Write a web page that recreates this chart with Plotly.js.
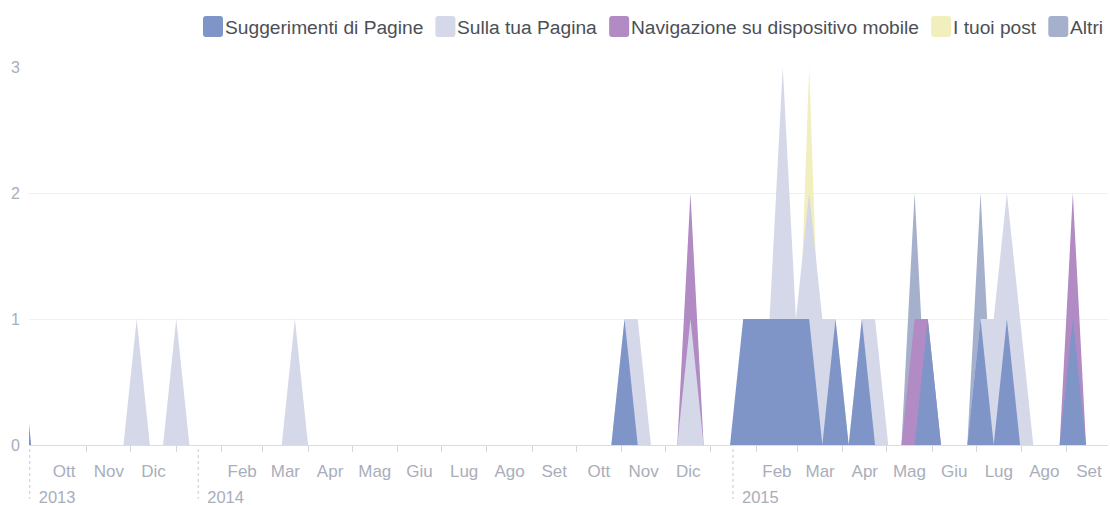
<!DOCTYPE html>
<html>
<head>
<meta charset="utf-8">
<script src="https://cdn.plot.ly/plotly-3.0.1.min.js"></script>
<style>
  html, body { margin: 0; padding: 0; background: #ffffff; }
  #chart { width: 1110px; height: 505px; }
</style>
</head>
<body>
<div id="chart"></div>
<script>
// ---------------- data ----------------
const seriesNames = ['Suggerimenti di Pagine', 'Sulla tua Pagina', 'Navigazione su dispositivo mobile', 'I tuoi post', 'Altri'];

const suggerimentiDates = ['2013-09-15','2013-09-24','2014-10-25','2014-11-03','2014-11-12','2015-01-14','2015-01-23','2015-02-01','2015-02-10','2015-02-19','2015-02-28','2015-03-09','2015-03-18','2015-03-27','2015-04-05','2015-04-14','2015-04-23','2015-05-20','2015-05-29','2015-06-07','2015-06-25','2015-07-04','2015-07-13','2015-07-22','2015-07-31','2015-08-27','2015-09-05','2015-09-14'];
const suggerimentiValues = [1,0,0,1,0,0,1,1,1,1,1,1,0,1,0,1,0,0,1,0,0,1,0,1,0,0,1,0];

const paginaDates = ['2013-11-26','2013-12-05','2013-12-14','2013-12-23','2014-01-01','2014-01-10','2014-03-14','2014-03-23','2014-04-01','2014-10-25','2014-11-03','2014-11-12','2014-11-21','2014-12-09','2014-12-18','2014-12-27','2015-02-01','2015-02-10','2015-02-19','2015-02-28','2015-03-09','2015-03-18','2015-03-27','2015-04-05','2015-04-14','2015-04-23','2015-05-02','2015-06-25','2015-07-04','2015-07-13','2015-07-22','2015-07-31','2015-08-09'];
const paginaValues = [0,1,0,0,1,0,0,1,0,0,1,1,0,0,1,0,0,1,3,1,2,1,1,0,1,1,0,0,1,1,2,1,0];

const mobileDates = ['2014-12-09','2014-12-18','2014-12-27','2015-05-11','2015-05-20','2015-05-29','2015-06-07','2015-08-27','2015-09-05','2015-09-14'];
const mobileValues = [0,2,0,0,1,1,0,0,2,0];

const postDates = ['2015-02-28','2015-03-09','2015-03-18'];
const postValues = [0,3,0];

const altriDates = ['2015-05-11','2015-05-20','2015-05-29','2015-06-25','2015-07-04','2015-07-13'];
const altriValues = [0,2,0,0,2,0];

const monthStarts = ['2013-10-01','2013-11-01','2013-12-01','2014-01-01','2014-02-01','2014-03-01','2014-04-01','2014-05-01','2014-06-01','2014-07-01','2014-08-01','2014-09-01','2014-10-01','2014-11-01','2014-12-01','2015-01-01','2015-02-01','2015-03-01','2015-04-01','2015-05-01','2015-06-01','2015-07-01','2015-08-01','2015-09-01','2015-10-01'];
const monthLabels = ['Ott','Nov','Dic','','Feb','Mar','Apr','Mag','Giu','Lug','Ago','Set','Ott','Nov','Dic','','Feb','Mar','Apr','Mag','Giu','Lug','Ago','Set'];

const yearMarks = ['2013-09-23','2014-01-16','2015-01-16'];
const yearLabels = ['2013','2014','2015'];

const yTicks = [0, 1, 2, 3];
const xRange = ['2013-09-22 12:00', '2015-09-29'];

// ---------------- styling ----------------
const colors = {
  sugg: '#7f95c8',
  pag: '#d4d8e8',
  mob: '#b28bc4',
  post: '#f1efbe',
  altri: '#a4b0cc'
};
const legendColors = [colors.sugg, colors.pag, colors.mob, colors.post, colors.altri];

const FONT = '"Liberation Sans", Arial, sans-serif';
const W = 1110, H = 505;
const M = { l: 29, r: 2, t: 67, b: 60 };
const plotW = W - M.l - M.r, plotH = H - M.t - M.b;
const toPX = p => (p - M.l) / plotW;
const toPY = p => (H - M.b - p) / plotH;

function area(x, y, name, color) {
  return {
    type: 'scatter', mode: 'lines', x: x, y: y, name: name,
    fill: 'tozeroy', fillcolor: color,
    line: { width: 0, color: color },
    showlegend: false, hoverinfo: 'skip'
  };
}

// draw order: bottom to top
const traces = [
  area(altriDates, altriValues, seriesNames[4], colors.altri),
  area(postDates, postValues, seriesNames[3], colors.post),
  area(mobileDates, mobileValues, seriesNames[2], colors.mob),
  area(paginaDates, paginaValues, seriesNames[1], colors.pag),
  area(suggerimentiDates, suggerimentiValues, seriesNames[0], colors.sugg),
  // empty carriers so the label axes get drawn
  { type: 'scatter', mode: 'lines', x: [], y: [], xaxis: 'x2', yaxis: 'y', showlegend: false, hoverinfo: 'skip' },
  { type: 'scatter', mode: 'lines', x: [], y: [], xaxis: 'x3', yaxis: 'y', showlegend: false, hoverinfo: 'skip' }
];

// month label positions: middle of each month
const labelPos = [], labelText = [];
for (let i = 0; i < monthLabels.length; i++) {
  if (!monthLabels[i]) continue;
  const a = new Date(monthStarts[i] + 'T00:00:00Z').getTime();
  const b = new Date(monthStarts[i + 1] + 'T00:00:00Z').getTime();
  const mid = new Date((a + b) / 2);
  labelPos.push(mid.toISOString().slice(0, 19).replace('T', ' '));
  labelText.push(monthLabels[i]);
}

// ---------------- legend (custom, rounded swatches) ----------------
const shapes = [];
const annotations = [];
const legendFontSize = 19.2;
const ctx = document.createElement('canvas').getContext('2d');
ctx.font = legendFontSize + 'px "Liberation Sans"';

function roundRectPath(x0, y0, x1, y1, r) {
  const X = v => toPX(v).toFixed(5), Y = v => toPY(v).toFixed(5);
  return 'M' + X(x0 + r) + ',' + Y(y0) +
    ' L' + X(x1 - r) + ',' + Y(y0) +
    ' Q' + X(x1) + ',' + Y(y0) + ' ' + X(x1) + ',' + Y(y0 + r) +
    ' L' + X(x1) + ',' + Y(y1 - r) +
    ' Q' + X(x1) + ',' + Y(y1) + ' ' + X(x1 - r) + ',' + Y(y1) +
    ' L' + X(x0 + r) + ',' + Y(y1) +
    ' Q' + X(x0) + ',' + Y(y1) + ' ' + X(x0) + ',' + Y(y1 - r) +
    ' L' + X(x0) + ',' + Y(y0 + r) +
    ' Q' + X(x0) + ',' + Y(y0) + ' ' + X(x0 + r) + ',' + Y(y0) + ' Z';
}

let lx = 203;
const swTop = 16, swBot = 37, swW = 20;
for (let i = 0; i < seriesNames.length; i++) {
  shapes.push({
    type: 'path', xref: 'paper', yref: 'paper', layer: 'above',
    path: roundRectPath(lx, swTop, lx + swW, swBot, 3),
    fillcolor: legendColors[i], line: { width: 0 }
  });
  annotations.push({
    xref: 'paper', yref: 'paper', x: toPX(lx + swW + 2), y: toPY(27),
    xanchor: 'left', yanchor: 'middle', showarrow: false,
    borderpad: 0, borderwidth: 0,
    text: seriesNames[i],
    font: { family: FONT, size: legendFontSize, color: '#4b4f56' }
  });
  lx += swW + 2 + ctx.measureText(seriesNames[i]).width + 12;
}

// dashed year separators
yearMarks.forEach(d => {
  shapes.push({
    type: 'line', xref: 'x', yref: 'paper', x0: d, x1: d,
    y0: toPY(449), y1: toPY(499),
    line: { color: '#c4c9d4', width: 1, dash: '3px,3px' }
  });
});

const axisTextColor = '#a9aebb';

const layout = {
  width: W, height: H,
  margin: M,
  paper_bgcolor: '#ffffff', plot_bgcolor: '#ffffff',
  font: { family: FONT, color: axisTextColor },
  showlegend: false,
  hovermode: false,
  xaxis: {
    type: 'date', range: xRange, fixedrange: true,
    tickmode: 'array', tickvals: monthStarts.slice(1), showticklabels: false,
    ticks: 'outside', ticklen: 6, tickcolor: '#d2d6de', tickwidth: 1,
    showgrid: false, zeroline: false,
    showline: true, linecolor: '#d8dce5', linewidth: 1
  },
  xaxis2: {
    type: 'date', range: xRange, overlaying: 'x', anchor: 'y', side: 'bottom', fixedrange: true,
    tickmode: 'array', tickvals: labelPos, ticktext: labelText,
    ticks: '', showgrid: false, zeroline: false, showline: false,
    ticklabelstandoff: 14,
    tickfont: { family: FONT, size: 17, color: axisTextColor }
  },
  xaxis3: {
    type: 'date', range: xRange, overlaying: 'x', anchor: 'y', side: 'bottom', fixedrange: true,
    tickmode: 'array', tickvals: yearMarks, ticktext: yearLabels,
    ticks: '', showgrid: false, zeroline: false, showline: false,
    ticklabelposition: 'outside right', ticklabelshift: 9,
    ticklabelstandoff: 40,
    tickfont: { family: FONT, size: 16.5, color: axisTextColor }
  },
  yaxis: {
    range: [0, 3], fixedrange: true,
    tickmode: 'array', tickvals: yTicks,
    ticks: '', showgrid: true, gridcolor: '#eef0f3', gridwidth: 1,
    zeroline: false, showline: false,
    ticklabelstandoff: 8,
    tickfont: { family: FONT, size: 16, color: axisTextColor }
  },
  shapes: shapes,
  annotations: annotations
};

Plotly.newPlot('chart', traces, layout, { displayModeBar: false, staticPlot: true });
</script>
</body>
</html>
